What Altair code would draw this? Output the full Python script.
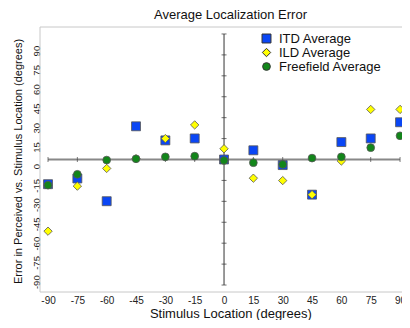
import altair as alt
import pandas as pd

positions = [-90, -75, -60, -45, -30, -15, 0, 15, 30, 45, 60, 75, 90]
itd_avg = [-17.7, -13.6, -29.9, 23.8, 13.7, 15.1, 0.0, 6.6, -4.0, -25.2, 12.5, 15.1, 26.7]
ild_avg = [-51.4, -19.1, -6.4, 0.5, 15.0, 24.8, 7.7, -13.4, -15.1, -25.2, -1.1, 35.9, 35.9]
ff_avg = [-18.4, -10.6, -0.4, 0.5, 1.9, 2.4, -0.7, -2.3, -3.5, 1.0, 1.9, 8.5, 17.0]
series_names = ["ITD Average", "ILD Average", "Freefield Average"]
series_colors = ["#0a46f5", "#ffff00", "#12861a"]
series_shapes = ["square", "diamond", "circle"]
series_sizes = [80, 60, 66]
tick_values = [-90, -75, -60, -45, -30, -15, 0, 15, 30, 45, 60, 75, 90]

rows = []
for name, vals in zip(series_names, [itd_avg, ild_avg, ff_avg]):
    for p, v in zip(positions, vals):
        rows.append({"loc": p, "err": v, "series": name})
df = pd.DataFrame(rows)
ticks_df = pd.DataFrame({"v": tick_values, "z": [0] * len(tick_values)})
line_df = pd.DataFrame({"a": [-90], "b": [90], "z": [0]})

FONT = "Liberation Sans"
W, H = 362, 265
X_MIN, X_MAX = -94.1, 91.0
Y_MIN, Y_MAX = -95, 95
frame_df = pd.DataFrame({"xmin": [X_MIN], "ymin": [Y_MIN], "ymax": [Y_MAX]})

xs = alt.Scale(domain=[X_MIN, X_MAX], nice=False, zero=False)
ys = alt.Scale(domain=[Y_MIN, Y_MAX], nice=False, zero=False)
x_axis = alt.Axis(values=tick_values, ticks=False, grid=False, domain=False,
                  labelExpr="'' + datum.value",
                  labelFontSize=10, labelFont=FONT, labelColor="#222", labelPadding=3,
                  labelFlush=False,
                  title="Stimulus Location (degrees)", titleFont=FONT, titleFontSize=13,
                  titleFontWeight="normal", titleColor="#111", titleX=190.3, titleY=25.5,
                  titleBaseline="alphabetic", titleAlign="center")

# y label axis (its own scale, as in the original picture)
ylab = alt.Chart(ticks_df).mark_point(opacity=0).encode(
    y=alt.Y("v:Q", scale=alt.Scale(domain=[-90, 90], range=[254.7, 23.6], nice=False),
            axis=alt.Axis(values=tick_values, ticks=False, grid=False, domain=False,
                          labelExpr="'' + datum.value",
                          labelAngle=270, labelAlign="center", labelBaseline="alphabetic",
                          labelPadding=1, labelFontSize=9.5, labelFont=FONT, labelColor="#222",
                          title="Error in Perceived vs. Stimulus Location (degrees)",
                          titleFont=FONT, titleFontSize=11, titleFontWeight="normal",
                          titleColor="#111", titleAngle=270, titleX=-22, titleY=134,
                          titleBaseline="middle", titleAlign="center"))
)

frame_left = alt.Chart(frame_df).mark_rule(color="#c8c8c8", strokeWidth=1).encode(
    x=alt.X("xmin:Q", scale=xs, axis=x_axis))
frame_top = alt.Chart(frame_df).mark_rule(color="#c8c8c8", strokeWidth=1).encode(
    y=alt.Y("ymax:Q", scale=ys, axis=None))
frame_bottom = alt.Chart(frame_df).mark_rule(color="#c8c8c8", strokeWidth=1).encode(
    y=alt.Y("ymin:Q", scale=ys, axis=None))

hline = alt.Chart(line_df).mark_rule(color="#888", strokeWidth=2).encode(
    x=alt.X("a:Q", scale=xs, axis=x_axis), x2="b:Q",
    y=alt.Y("z:Q", scale=ys, axis=None))
vline = alt.Chart(line_df).mark_rule(color="#555", strokeWidth=1.2).encode(
    x=alt.X("z:Q", scale=xs, axis=x_axis),
    y=alt.Y("a:Q", scale=ys, axis=None), y2="b:Q")
hticks = alt.Chart(ticks_df).mark_tick(orient="vertical", size=5, thickness=1, color="#444").encode(
    x=alt.X("v:Q", scale=xs, axis=x_axis), y=alt.Y("z:Q", scale=ys, axis=None))
vticks = alt.Chart(ticks_df).mark_tick(orient="horizontal", size=5, thickness=1, color="#333").encode(
    x=alt.X("z:Q", scale=xs, axis=x_axis), y=alt.Y("v:Q", scale=ys, axis=None))

points = alt.Chart(df).mark_point(filled=True, opacity=1, stroke="#555", strokeWidth=0.8).encode(
    x=alt.X("loc:Q", scale=xs, axis=x_axis),
    y=alt.Y("err:Q", scale=ys, axis=None),
    color=alt.Color("series:N", scale=alt.Scale(domain=series_names, range=series_colors),
                    legend=alt.Legend(title=None, orient="none", legendX=220, legendY=5,
                                      labelFont=FONT, labelFontSize=13, labelColor="#111",
                                      rowPadding=0, padding=0, clipHeight=13,
                                      symbolStrokeColor="#333",
                                      symbolStrokeWidth=1, labelOffset=6)),
    shape=alt.Shape("series:N", scale=alt.Scale(domain=series_names, range=series_shapes)),
    size=alt.Size("series:N", scale=alt.Scale(domain=series_names, range=series_sizes)),
)

chart = alt.layer(ylab, frame_left, frame_top, frame_bottom, hline, vline, hticks, vticks,
                  points).resolve_scale(y="independent").properties(
    width=W, height=H,
    autosize=alt.AutoSizeParams(type="none"),
    padding={"left": 32, "top": 19, "right": 0, "bottom": 28},
    title=alt.TitleParams("Average Localization Error", font=FONT, fontSize=13,
                          fontWeight="normal", color="#111", offset=4.5, dx=9.5),
    background="white",
).configure_view(stroke=None)

chart.save("out.html", embed_options={"renderer": "svg", "actions": False})
